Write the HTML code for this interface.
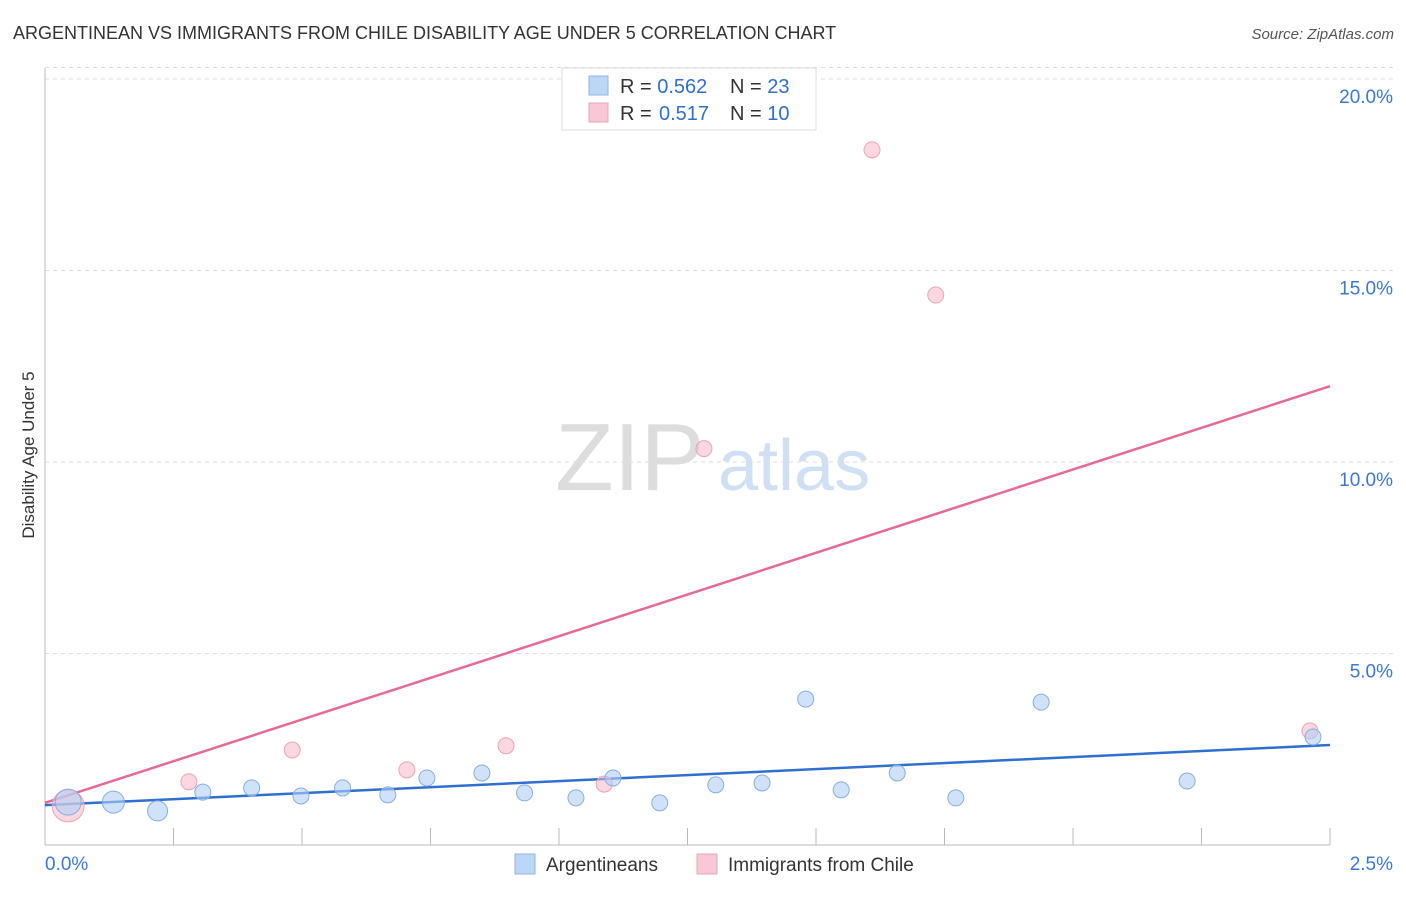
<!DOCTYPE html>
<html><head><meta charset="utf-8"><style>
body{margin:0;background:#fff;font-family:"Liberation Sans",sans-serif;}
svg text{font-family:"Liberation Sans",sans-serif;}
</style></head><body>
<svg width="1406" height="892" xmlns="http://www.w3.org/2000/svg">
<text x="13" y="39" font-size="18" fill="#333">ARGENTINEAN VS IMMIGRANTS FROM CHILE DISABILITY AGE UNDER 5 CORRELATION CHART</text>
<text x="1394" y="39" font-size="15" fill="#555" font-style="italic" text-anchor="end">Source: ZipAtlas.com</text>
<text x="34" y="455" font-size="17" fill="#333" text-anchor="middle" transform="rotate(-90 34 455)">Disability Age Under 5</text>
<g><text x="555" y="490" font-size="96" fill="#ddd" font-family="Liberation Serif">ZIP</text><text x="718" y="490" font-size="72" fill="#cfe0f5">atlas</text></g>
<g id="grid"></g><g id="axes"></g><g id="lines"></g><g id="pts"></g>
<g>
<rect x="562" y="68" width="254" height="62" fill="#fff" stroke="#ddd"/>
<rect x="589" y="76" width="19" height="19" fill="#bcd6f6" stroke="#8fb6e8"/>
<text x="620" y="93" font-size="20" fill="#333">R = <tspan fill="#2f6fd0">0.562</tspan></text>
<text x="730" y="93" font-size="20" fill="#333">N = <tspan fill="#2f6fd0">23</tspan></text>
<rect x="589" y="103" width="19" height="19" fill="#f9c8d6" stroke="#eca3b9"/>
<text x="620" y="120" font-size="20" fill="#333">R = <tspan x="659" fill="#2f6fd0">0.517</tspan></text>
<text x="730" y="120" font-size="20" fill="#333">N = <tspan fill="#2f6fd0">10</tspan></text>
</g>
<g>
<rect x="515" y="854" width="20" height="20" fill="#bcd6f6" stroke="#8fb6e8"/>
<text x="546" y="871" font-size="19" fill="#333">Argentineans</text>
<rect x="697" y="854" width="20" height="20" fill="#f9c8d6" stroke="#eca3b9"/>
<text x="728" y="871" font-size="19" fill="#333">Immigrants from Chile</text>
</g>
</svg>
<script>
const yTicks=[5,10,15,20];
const yTickLabels=["5.0%","10.0%","15.0%","20.0%"];
const xTickLabels=["0.0%","2.5%"];
const blueX=[0.045,0.133,0.219,0.307,0.402,0.498,0.579,0.667,0.743,0.850,0.933,1.033,1.105,1.196,1.305,1.395,1.480,1.549,1.658,1.772,1.938,2.222,2.467];
const blueY=[1.12,1.12,0.89,1.38,1.49,1.28,1.49,1.31,1.75,1.88,1.36,1.23,1.75,1.10,1.57,1.62,3.81,1.44,1.88,1.23,3.73,1.67,2.82];
const blueR=[13,11,10,8,8,8,8,8,8,8,8,8,8,8,8,8,8,8,8,8,8,8,8];
const pinkX=[0.045,0.280,0.481,0.704,0.897,1.088,1.282,1.609,1.733,2.461];
const pinkY=[1.02,1.65,2.48,1.96,2.59,1.59,10.35,18.15,14.36,2.98];
const pinkR=[16,8,8,8,8,8,8,8,8,8];
const blueLine=[0.0,1.04,2.5,2.61];
const pinkLine=[0.0,1.10,2.5,11.98];
const sx=v=>45+v*1285/2.5, sy=v=>845-v*38.3;
const NS="http://www.w3.org/2000/svg";
function mk(p,t,a){const e=document.createElementNS(NS,t);for(const k in a)e.setAttribute(k,a[k]);document.getElementById(p).appendChild(e);return e;}
yTicks.forEach((t,i)=>{
 const g=mk('grid','line',{x1:45,x2:1394,y1:sy(t),y2:sy(t),stroke:'#ddd','stroke-dasharray':'4 4'});
 
 
 const l=mk('grid','text',{x:1393,y:sy(t)+24,'font-size':19,fill:'#3a78d6','text-anchor':'end'});
 l.textContent=yTickLabels[i];
 
 
});
const topGrid=mk('grid','line',{x1:45,x2:1394,y1:sy(20.3),y2:sy(20.3),stroke:'#ddd','stroke-dasharray':'4 4'});


const ya=mk('axes','line',{x1:45,x2:45,y1:68,y2:845,stroke:'#bbb'});


const xa=mk('axes','line',{x1:45,x2:1330,y1:845,y2:845,stroke:'#bbb'});


for(let i=1;i<=10;i++){const t=mk('axes','line',{x1:sx(i*0.25),x2:sx(i*0.25),y1:828,y2:845,stroke:'#bbb'});
 
 }
[[45,'start'],[1393,'end']].forEach((p,i)=>{const l=mk('axes','text',{x:p[0],y:870,'font-size':19,fill:'#3a78d6','text-anchor':p[1]});l.textContent=xTickLabels[i];
 
 });
[[blueLine,'#2f6fd0','blue-trend-line'],[pinkLine,'#e66a95','pink-trend-line']].forEach(a=>{const L=a[0];
 const e=mk('lines','line',{x1:sx(L[0]),y1:sy(L[1]),x2:sx(L[2]),y2:sy(L[3]),stroke:a[1],'stroke-width':2.5});
 
 });
pinkX.forEach((x,i)=>{const c=mk('pts','circle',{cx:sx(x),cy:sy(pinkY[i]),r:pinkR[i],fill:'rgba(246,182,201,0.55)',stroke:'#eca3b9'});
 
 });
blueX.forEach((x,i)=>{const c=mk('pts','circle',{cx:sx(x),cy:sy(blueY[i]),r:blueR[i],fill:'rgba(176,206,243,0.6)',stroke:'#86aee3'});
 
 });
</script>
</body></html>
